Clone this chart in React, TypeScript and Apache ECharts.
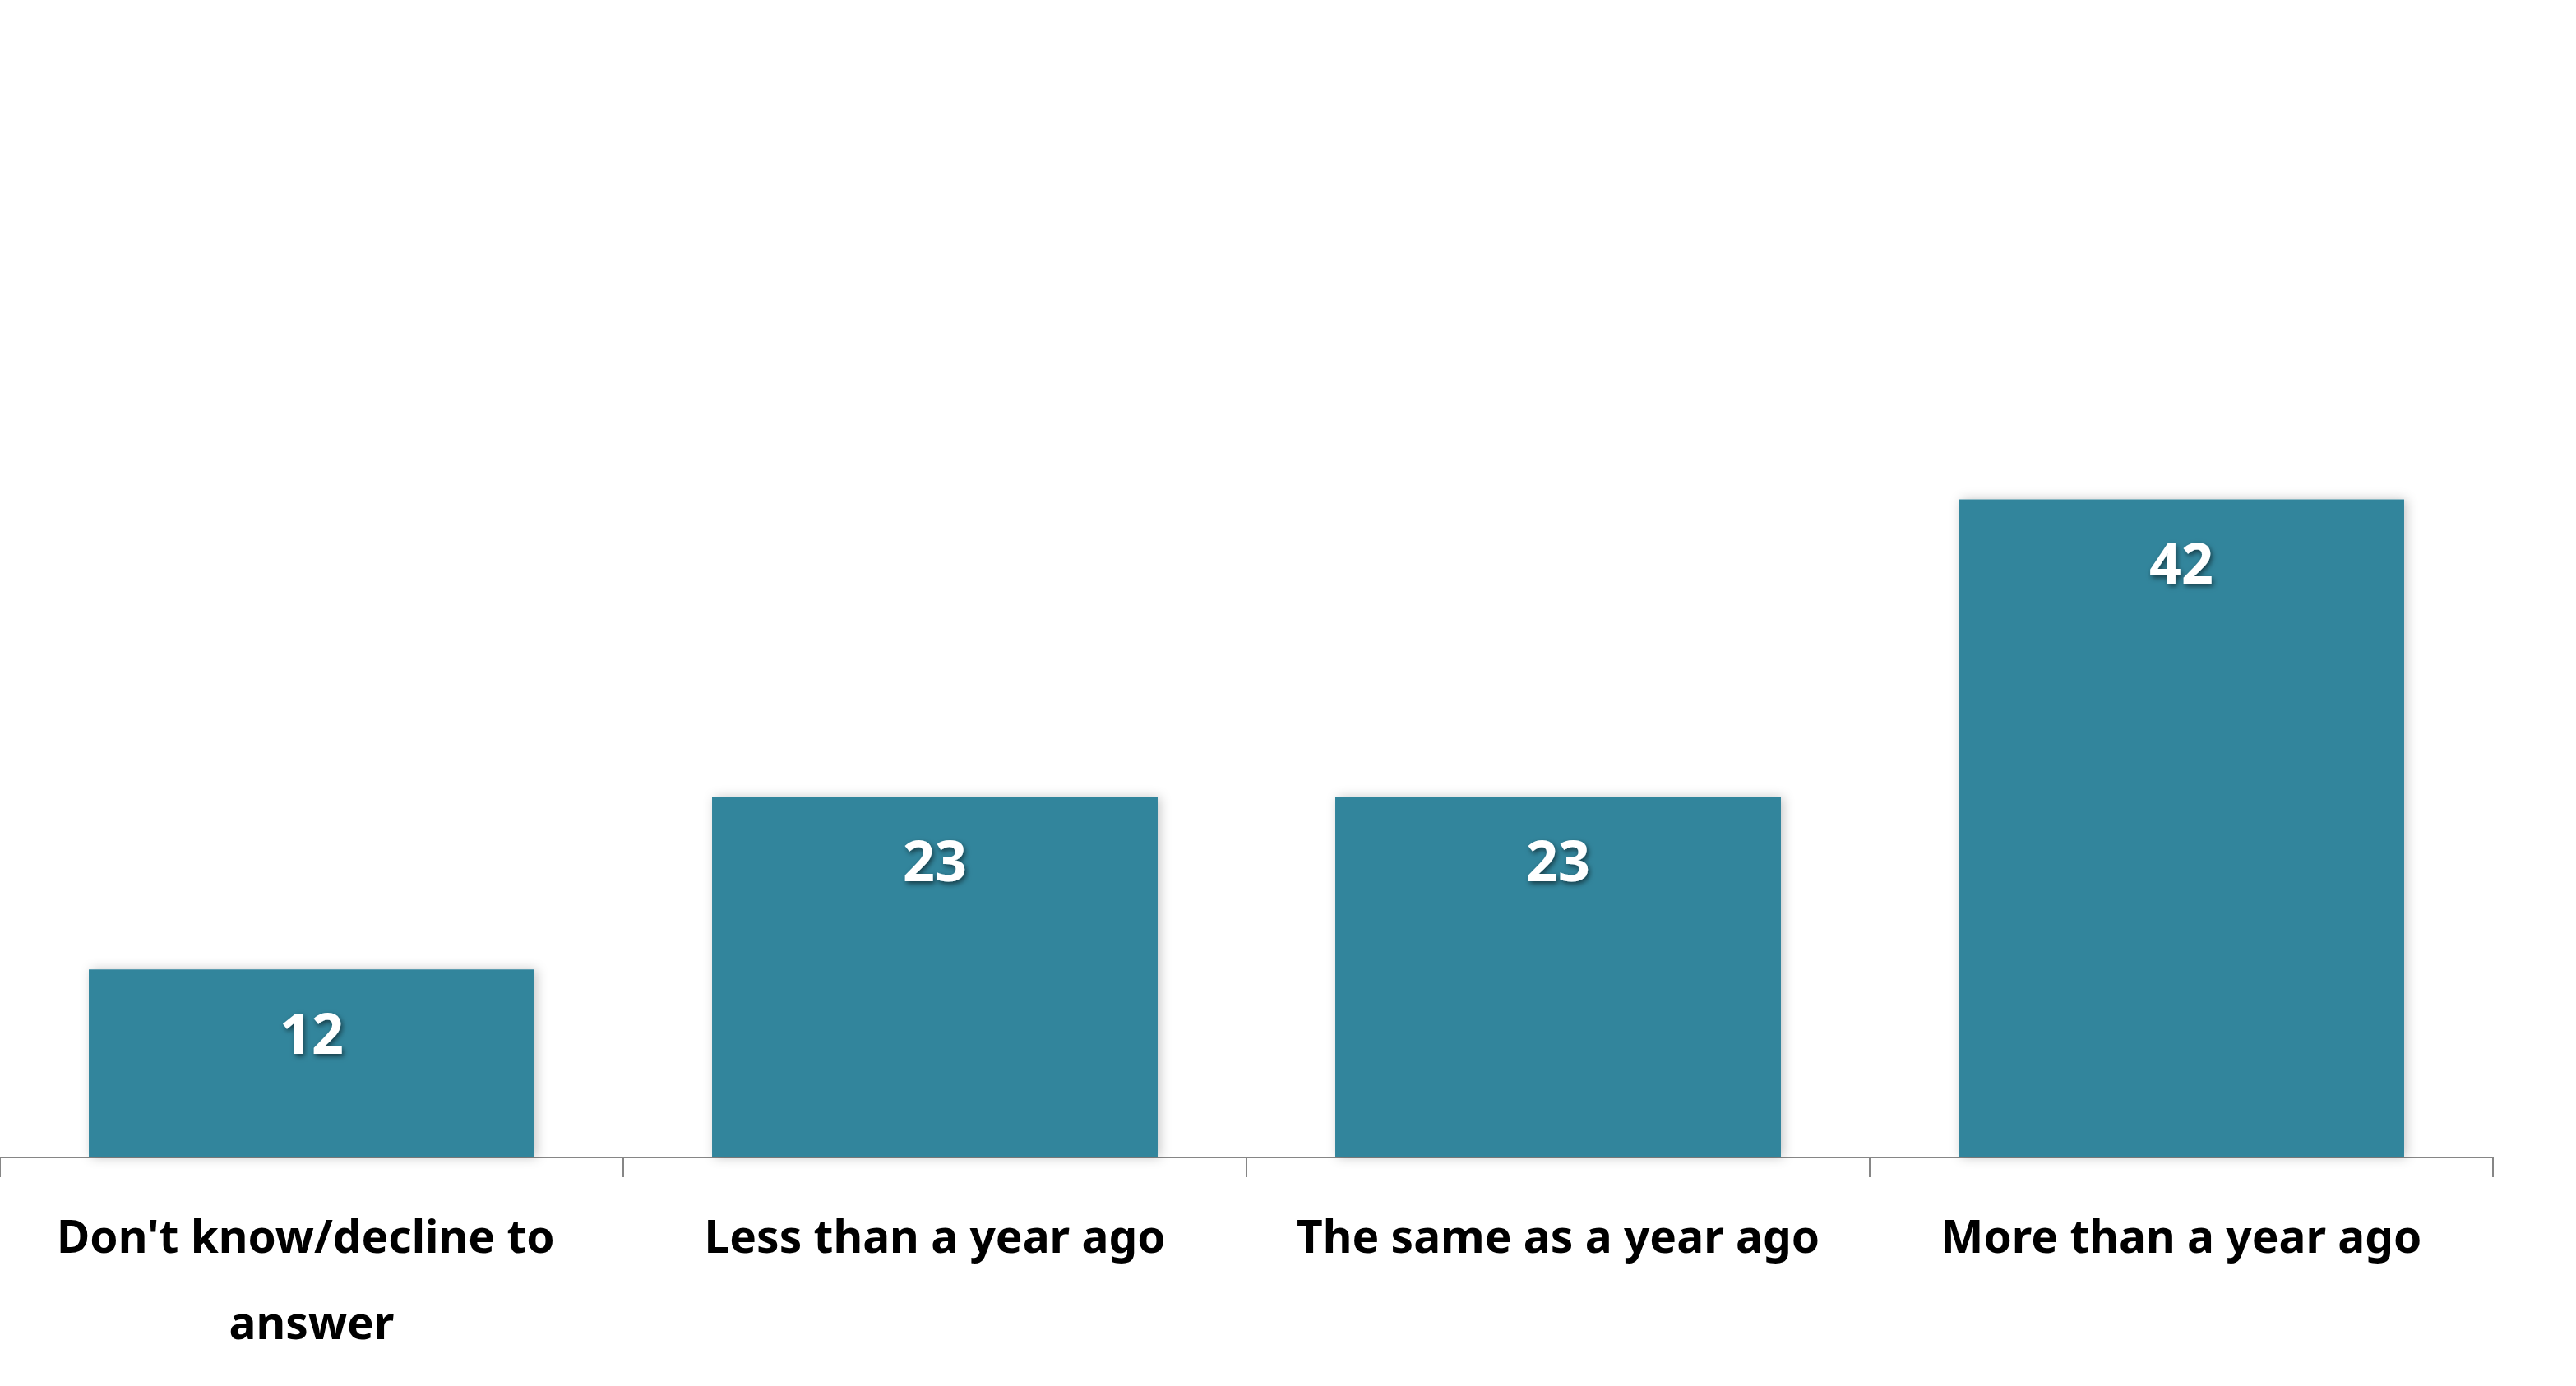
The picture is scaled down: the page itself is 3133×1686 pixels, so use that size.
import React, { useEffect, useRef } from "react";
import * as echarts from "echarts";

const categories = [
  "Don't know/decline to answer",
  "Less than a year ago",
  "The same as a year ago",
  "More than a year ago",
];
const values = [12, 23, 23, 42];

export default function App() {
  const ref = useRef<HTMLDivElement>(null);
  useEffect(() => {
    if (!ref.current) return;
    const chart = echarts.init(ref.current, undefined, { renderer: "svg" });
    chart.setOption({
      animation: false,
      backgroundColor: "#ffffff",
      grid: { left: 0, right: 101, top: 74, bottom: 278, containLabel: false },
      xAxis: {
        type: "category",
        data: categories,
        axisLine: { show: true, lineStyle: { color: "#868686", width: 2 } },
        axisTick: { show: true, length: 24, lineStyle: { color: "#868686", width: 2 } },
        axisLabel: {
          interval: 0,
          margin: 42,
          color: "#000000",
          fontFamily: "Noto Sans",
          fontWeight: "bold",
          fontSize: 55,
          lineHeight: 105,
          width: 720,
          overflow: "break",
        },
      },
      yAxis: {
        type: "value",
        min: 0,
        max: 70,
        interval: 10,
        show: false,
        splitLine: { show: false },
      },
      series: [
        {
          type: "bar",
          data: values,
          barCategoryGap: "28.5%",
          itemStyle: {
            color: "#31859c",
            shadowBlur: 14,
            shadowColor: "rgba(0,0,0,0.22)",
            shadowOffsetX: 3,
            shadowOffsetY: 0,
          },
          label: {
            show: true,
            position: "insideTop",
            distance: 42,
            color: "#ffffff",
            fontFamily: "Noto Sans",
            fontWeight: "bold",
            fontSize: 68,
            textShadowColor: "rgba(0,0,0,0.55)",
            textShadowBlur: 6,
            textShadowOffsetX: 2,
            textShadowOffsetY: 3,
          },
        },
      ],
    });
    return () => chart.dispose();
  }, []);
  return (
    <div
      ref={ref}
      style={{ position: "absolute", left: 0, top: 0, width: 3133, height: 1686 }}
    />
  );
}
